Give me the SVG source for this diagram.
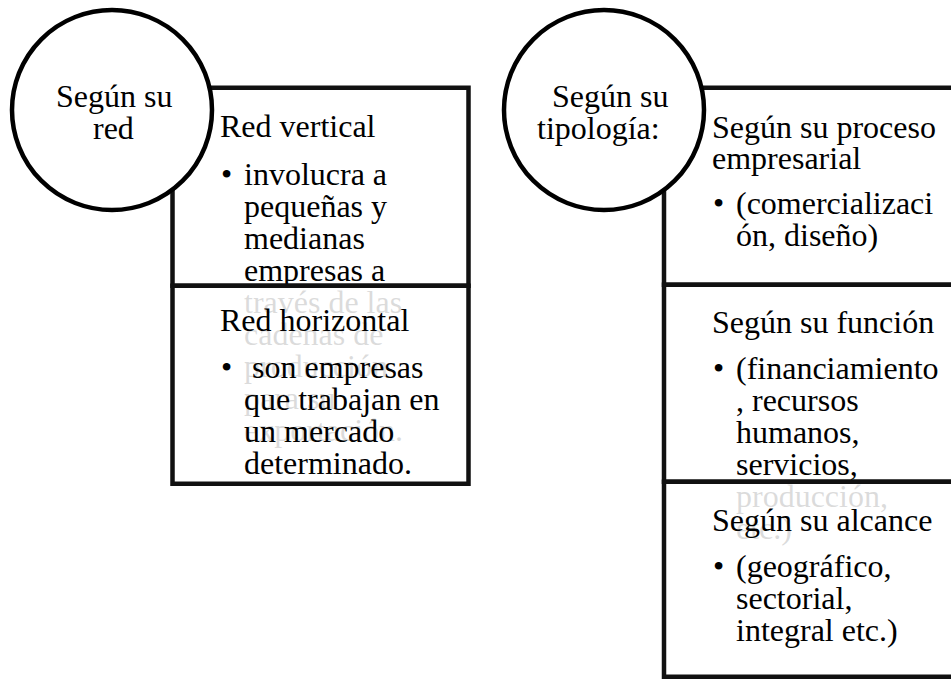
<svg xmlns="http://www.w3.org/2000/svg" width="951" height="679" viewBox="0 0 951 679">
<style>
.box{fill:#fff;stroke:#111;stroke-width:4.5}
.box2{fill:#fff;fill-opacity:0.86;stroke:#111;stroke-width:4.5}
.circ{fill:#fff;stroke:#000;stroke-width:4.5}
text{font-family:"Liberation Serif","Times New Roman",serif;font-size:32px;fill:#000}
</style>
<rect width="951" height="679" fill="#fff"/>
<g id="connectors"/>
<g id="left-box-1">
<rect class="box" x="172.5" y="87.75" width="296" height="198"/>
<text x="220" y="137">Red vertical</text>
<text x="221" y="185">•</text>
<text x="244" y="185">involucra a</text>
<text x="244" y="217">pequeñas y</text>
<text x="244" y="249">medianas</text>
<text x="244" y="281">empresas a</text>
<text x="244" y="313">través de las</text>
<text x="244" y="345">cadenas de</text>
<text x="244" y="377">producción</text>
<text x="244" y="409">para su</text>
<text x="244" y="441">exportación.</text>
</g>
<g id="left-box-2">
<rect class="box2" x="172.5" y="285.75" width="296" height="198"/>
<text x="220" y="331">Red horizontal</text>
<text x="221" y="378">•</text>
<text x="252" y="378">son empresas</text>
<text x="244" y="410">que trabajan en</text>
<text x="244" y="442">un mercado</text>
<text x="244" y="474">determinado.</text>
</g>
<g id="left-circle">
<circle class="circ" cx="112" cy="110" r="100"/>
<text x="56" y="107">Según su</text>
<text x="93" y="139">red</text>
</g>
<g id="right-box-1">
<rect class="box" x="664" y="87.75" width="300" height="197"/>
<text x="712" y="138">Según su proceso</text>
<text x="712" y="169">empresarial</text>
<text x="713" y="214">•</text>
<text x="736" y="214">(comercializaci</text>
<text x="736" y="246">ón, diseño)</text>
</g>
<g id="right-box-2">
<rect class="box2" x="664" y="284.75" width="300" height="197"/>
<text x="712" y="333">Según su función</text>
<text x="713" y="379">•</text>
<text x="736" y="379">(financiamiento</text>
<text x="736" y="411">, recursos</text>
<text x="736" y="443">humanos,</text>
<text x="736" y="475">servicios,</text>
<text x="736" y="507">producción,</text>
<text x="736" y="539">etc.)</text>
</g>
<g id="right-box-3">
<rect class="box2" x="664" y="481.75" width="300" height="195"/>
<text x="712" y="531">Según su alcance</text>
<text x="713" y="577">•</text>
<text x="736" y="577">(geográfico,</text>
<text x="736" y="609">sectorial,</text>
<text x="736" y="641">integral etc.)</text>
</g>
<g id="right-circle">
<circle class="circ" cx="604" cy="110" r="100"/>
<text x="552" y="107">Según su</text>
<text x="537" y="139">tipología:</text>
</g>
</svg>
